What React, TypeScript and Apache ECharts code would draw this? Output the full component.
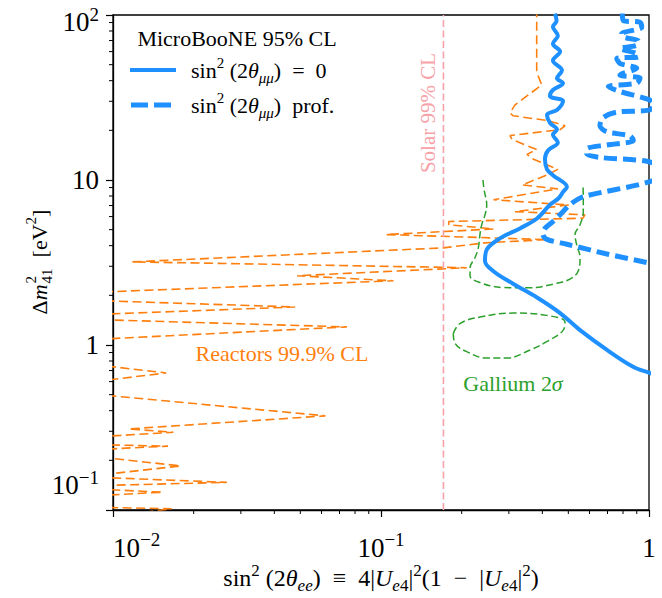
import React, { useEffect, useRef } from "react";
import * as echarts from "echarts";

const F = "'Liberation Serif', 'Times New Roman', serif";

const xRange = [0.01, 1];
const yRange = [0.1, 100];
const xMinor = [0.02, 0.03, 0.04, 0.05, 0.06, 0.07, 0.08, 0.09, 0.2, 0.3, 0.4, 0.5, 0.6, 0.7, 0.8, 0.9];
const yMinor = [0.2, 0.3, 0.4, 0.5, 0.6, 0.7, 0.8, 0.9, 2, 3, 4, 5, 6, 7, 8, 9, 20, 30, 40, 50, 60, 70, 80, 90];

const solarX = 0.171;

const reactors: [number, number][] = [
  [0.381, 110], [0.381, 46.2], [0.385, 43.1], [0.398, 37.6], [0.3535, 32.7], [0.3162, 28.5],
  [0.303, 25.5], [0.311, 24.5], [0.42, 22.9], [0.486, 21.3], [0.466, 20.2], [0.303, 18.6],
  [0.308, 17.6], [0.381, 15.3], [0.3505, 14.3], [0.369, 13.4], [0.457, 11.6], [0.415, 10.7],
  [0.336, 9.33], [0.457, 8.83], [0.263, 7.59], [0.5015, 7.06], [0.3162, 6.43], [0.576, 6.15],
  [0.567, 5.87], [0.179, 5.6], [0.179, 5.35], [0.263, 5.05], [0.1045, 4.67], [0.417, 4.35],
  [0.2435, 4.16], [0.171, 3.88], [0.0118, 3.19], [0.209, 2.94], [0.0486, 2.63], [0.1113, 2.45],
  [0.0095, 2.1], [0.0095, 1.85], [0.0478, 1.7], [0.0095, 1.54], [0.0095, 1.42], [0.0746, 1.287],
  [0.0095, 1.09], [0.0095, 0.745], [0.0158, 0.677], [0.0095, 0.613], [0.0095, 0.495], [0.062, 0.372],
  [0.01144, 0.31], [0.0168, 0.296], [0.0095, 0.28], [0.0095, 0.248], [0.01604, 0.244], [0.0095, 0.234],
  [0.0095, 0.207], [0.01786, 0.185], [0.0095, 0.165], [0.0095, 0.157], [0.0266, 0.147], [0.0095, 0.141],
  [0.0095, 0.133], [0.01531, 0.1282], [0.0095, 0.123], [0.0095, 0.1035], [0.01655, 0.1018], [0.012, 0.095],
];

const galliumUpper: [number, number][] = [
  [0.2402, 10], [0.2422, 8.83], [0.248, 7.06], [0.2444, 6.15], [0.2375, 5.35], [0.234, 4.67],
  [0.2307, 3.88], [0.2242, 3.38], [0.2149, 2.94], [0.2149, 2.63], [0.234, 2.39], [0.286, 2.23],
  [0.36, 2.22], [0.4394, 2.34], [0.507, 2.51], [0.5445, 2.81], [0.553, 3.38], [0.537, 4.06],
  [0.5295, 4.67], [0.553, 5.35], [0.5686, 6.43], [0.5686, 7.73], [0.567, 9.46],
];

const galliumLower: [number, number][] = [
  [0.1861, 1.175], [0.197, 1.349], [0.234, 1.477], [0.3117, 1.561], [0.415, 1.512], [0.486, 1.379],
  [0.4787, 1.23], [0.415, 1.047], [0.36, 0.933], [0.2942, 0.833], [0.248, 0.833], [0.2089, 0.912],
  [0.1888, 1.024], [0.1861, 1.175],
];

const uboone: [number, number][] = [
  [0.446, 102], [0.452, 92.4], [0.438, 84.8], [0.457, 74.9], [0.438, 67.0], [0.466, 60.0],
  [0.438, 53.0], [0.4735, 46.2], [0.4535, 41.4], [0.4777, 38.6], [0.438, 35.1], [0.427, 32.3],
  [0.4777, 30.1], [0.4535, 26.6], [0.4163, 24.8], [0.427, 22.2], [0.4535, 20.2], [0.438, 18.8],
  [0.457, 16.9], [0.42, 15.1], [0.409, 13.4], [0.4163, 11.6], [0.438, 10.7], [0.494, 9.08],
  [0.478, 8.47], [0.46, 7.75], [0.427, 7.08], [0.382, 5.84], [0.33, 5.09], [0.278, 4.43],
  [0.2486, 3.81], [0.2443, 3.23], [0.262, 2.81], [0.311, 2.35], [0.382, 1.94], [0.466, 1.56],
  [0.553, 1.23], [0.697, 0.933], [0.872, 0.738], [1.0, 0.679], [1.05, 0.66],
];

const ubooneProf: [number, number][] = [
  [0.795, 102], [0.802, 92.4], [0.926, 90.4], [0.939, 84.4], [0.791, 76.9], [0.802, 73.5],
  [0.912, 69.6], [0.9, 65.5], [0.779, 62.6], [0.9, 58.4], [0.912, 55.8], [0.758, 54.5],
  [0.779, 50.9], [0.9, 47.5], [0.779, 43.3], [0.926, 41.4], [0.9, 38.6], [0.705, 36.9],
  [0.779, 34.4], [1.0, 30.7], [1.04, 28.6], [1.0, 26.5], [0.758, 25.8], [0.672, 23.8],
  [0.656, 21.3], [0.695, 19.6], [0.849, 18.5], [0.874, 17.3], [0.695, 16.3], [0.585, 15.4],
  [0.585, 14.4], [0.656, 13.7], [1.0, 12.9], [1.15, 11.2], [1.0, 9.73], [0.567, 7.91],
  [0.507, 7.09], [0.466, 6.17], [0.438, 5.6], [0.409, 5.09], [0.402, 4.69], [0.416, 4.37],
  [0.494, 4.08], [0.697, 3.56], [1.0, 3.14], [1.05, 3.08],
];

const BLUE = "#1e90ff";
const ORANGE = "#ff7f0e";
const GREEN = "#2ca02c";
const PINK = "#f7a1a8";

const TS = 27; // tick label size
const TSS = 19; // tick superscript size

// rich styles for ECharts axis labels
const axisRich = {
  r: { fontSize: TS, fontFamily: F, color: "#000", lineHeight: TS + 8 },
  sp: { fontSize: TSS, fontFamily: F, color: "#000", lineHeight: TSS, verticalAlign: "top" },
  rt: { fontSize: TS, fontFamily: F, color: "#000", height: 16, lineHeight: 30, verticalAlign: "bottom" },
  spt: { fontSize: TSS, fontFamily: F, color: "#000", height: 28, lineHeight: 28, verticalAlign: "top" },
  rb: { fontSize: TS, fontFamily: F, color: "#000", height: 30, lineHeight: 80, verticalAlign: "top" },
  spb: { fontSize: TSS, fontFamily: F, color: "#000", height: 14, lineHeight: 14, verticalAlign: "top" },
};

function gRich(size: number, color: string) {
  const small = Math.round(size * 0.7);
  return {
    r: { font: `${size}px ${F}`, fill: color, lineHeight: size + 8 },
    i: { font: `italic ${size}px ${F}`, fill: color, lineHeight: size + 8 },
    sp: { font: `${small}px ${F}`, fill: color, lineHeight: small, verticalAlign: "top" },
    sb: { font: `${small}px ${F}`, fill: color, lineHeight: small, verticalAlign: "bottom" },
    sbi: { font: `italic ${small}px ${F}`, fill: color, lineHeight: small, verticalAlign: "bottom" },
  };
}

function expText(e: number) {
  return `${e < 0 ? "\u2212" : ""}${Math.abs(e)}`;
}

function xTickLabel(v: number) {
  const e = Math.round(Math.log10(v));
  if (e === 0) return "{r|1}";
  return `{r|10}{sp|${expText(e)}}`;
}

function yTickLabel(v: number) {
  const e = Math.round(Math.log10(v));
  const lo = Math.round(Math.log10(yRange[0]));
  const hi = Math.round(Math.log10(yRange[1]));
  if (e === 0) return "{r|1}";
  if (e === 1) return "{r|10}";
  if (e === hi) return `{rt|10}{spt|${expText(e)}}`;
  if (e === lo) return `{rb|10}{spb|${expText(e)}}`;
  return `{r|10}{sp|${expText(e)}}`;
}

function measure(text: string, font: string) {
  const c = document.createElement("canvas").getContext("2d");
  if (!c) return text.length * 10;
  c.font = font;
  return c.measureText(text).width;
}

// y-axis title with the superscript stacked over the subscript
function yTitle(cx: number, cy: number) {
  const big = `22px ${F}`;
  const bigI = `italic 22px ${F}`;
  const small = `15px ${F}`;
  const wD = measure("Δ", big);
  const wM = measure("m", bigI) + 1;
  const wS = Math.max(measure("41", small), measure("2", small));
  const wB = measure("  [eV", big);
  const wE = measure("2", small);
  const wC = measure("]", big);
  const total = wD + wM + wS + wB + wE + wC;
  let x = -total / 2;
  const items: any[] = [];
  const add = (text: string, font: string, y: number) => {
    items.push({
      type: "text",
      x,
      y,
      style: { text, font, fill: "#000", align: "left", verticalAlign: "middle" },
    });
  };
  add("Δ", big, 0);
  x += wD;
  add("m", bigI, 0);
  x += wM;
  add("2", small, -8);
  add("41", small, 8);
  x += wS;
  add("  [eV", big, 0);
  x += wB;
  add("2", small, -8);
  x += wE;
  add("]", big, 0);
  return { type: "group", x: cx, y: cy, rotation: Math.PI / 2, children: items };
}

export default function App() {
  const ref = useRef<HTMLDivElement>(null);
  useEffect(() => {
    if (!ref.current) return;
    const chart = echarts.init(ref.current, undefined, { renderer: "svg" });
    const minorTick = (dir: "x" | "y") => (params: any, api: any) => {
      const p = api.coord([api.value(0), api.value(1)]);
      const shape =
        dir === "x"
          ? { x1: p[0], y1: p[1], x2: p[0], y2: p[1] + 4 }
          : { x1: p[0] - 4, y1: p[1], x2: p[0], y2: p[1] };
      return { type: "line", shape, style: { stroke: "#000", lineWidth: 1 } };
    };
    const legendRich = gRich(22, "#000");
    chart.setOption({
      animation: false,
      backgroundColor: "#fff",
      grid: { left: 113, right: 13, top: 11, bottom: 88, show: true, borderColor: "#000", borderWidth: 1.3 },
      xAxis: {
        type: "log",
        logBase: 10,
        min: xRange[0],
        max: xRange[1],
        axisLine: { show: true, lineStyle: { color: "#000", width: 1.3 } },
        axisTick: { show: true, length: 7, lineStyle: { color: "#000", width: 1.2 } },
        splitLine: { show: false },
        axisLabel: {
          margin: 20,
          formatter: xTickLabel,
          rich: axisRich,
          alignMinLabel: "left",
        },
      },
      yAxis: {
        type: "log",
        logBase: 10,
        min: yRange[0],
        max: yRange[1],
        axisLine: { show: true, lineStyle: { color: "#000", width: 1.3 } },
        axisTick: { show: true, length: 7, lineStyle: { color: "#000", width: 1.2 } },
        splitLine: { show: false },
        axisLabel: {
          margin: 14,
          formatter: yTickLabel,
          rich: axisRich,
        },
      },
      series: [
        {
          type: "custom",
          renderItem: minorTick("x"),
          data: xMinor.map((v) => [v, yRange[0]]),
          silent: true,
          z: 5,
        },
        {
          type: "custom",
          renderItem: minorTick("y"),
          data: yMinor.map((v) => [xRange[0], v]),
          silent: true,
          z: 5,
        },
        {
          type: "line",
          name: "Reactors 99.9% CL",
          data: reactors,
          symbol: "none",
          lineStyle: { color: ORANGE, width: 1.6, type: [9, 4.5] },
        },
        {
          type: "line",
          name: "Gallium upper",
          data: galliumUpper,
          symbol: "none",
          smooth: 0.4,
          lineStyle: { color: GREEN, width: 1.5, type: [7, 3.5] },
        },
        {
          type: "line",
          name: "Gallium lower",
          data: galliumLower,
          symbol: "none",
          smooth: 0.4,
          lineStyle: { color: GREEN, width: 1.5, type: [7, 3.5] },
        },
        {
          type: "line",
          name: "Solar 99% CL",
          data: [[solarX, yRange[0]], [solarX, yRange[1]]],
          symbol: "none",
          lineStyle: { color: PINK, width: 1.6, type: [7, 3.5] },
        },
        {
          type: "line",
          name: "uboone",
          data: uboone,
          symbol: "none",
          smooth: 0.35,
          lineStyle: { color: BLUE, width: 4 },
        },
        {
          type: "line",
          name: "uboone prof",
          data: ubooneProf,
          symbol: "none",
          smooth: 0.3,
          lineStyle: { color: BLUE, width: 5, type: [13, 6] },
        },
      ],
      graphic: [
        {
          type: "text",
          x: 428,
          y: 113,
          rotation: Math.PI / 2,
          style: { text: "Solar 99% CL", fill: PINK, font: `21px ${F}`, align: "center", verticalAlign: "middle" },
        },
        {
          type: "text",
          x: 282,
          y: 353,
          style: { text: "Reactors 99.9% CL", fill: ORANGE, font: `22px ${F}`, align: "center", verticalAlign: "middle" },
        },
        {
          type: "text",
          x: 513,
          y: 383,
          style: {
            text: "{r|Gallium 2}{i|σ}",
            rich: gRich(22, GREEN),
            align: "center",
            verticalAlign: "middle",
          },
        },
        {
          type: "text",
          x: 237,
          y: 38,
          style: { text: "MicroBooNE 95% CL", fill: "#000", font: `22px ${F}`, align: "center", verticalAlign: "middle" },
        },
        {
          type: "line",
          shape: { x1: 130, y1: 70, x2: 176, y2: 70 },
          style: { stroke: BLUE, lineWidth: 4 },
        },
        {
          type: "text",
          x: 191,
          y: 70,
          style: {
            text: "{r|sin}{sp|2}{r| (2}{i|θ}{sbi|μμ}{r|)  =  0}",
            rich: legendRich,
            align: "left",
            verticalAlign: "middle",
          },
        },
        {
          type: "line",
          shape: { x1: 131, y1: 105, x2: 172, y2: 105 },
          style: { stroke: BLUE, lineWidth: 5, lineDash: [17, 6] },
        },
        {
          type: "text",
          x: 191,
          y: 105,
          style: {
            text: "{r|sin}{sp|2}{r| (2}{i|θ}{sbi|μμ}{r|)  prof.}",
            rich: legendRich,
            align: "left",
            verticalAlign: "middle",
          },
        },
        yTitle(39, 262),
        {
          type: "text",
          x: 381,
          y: 578,
          style: {
            text:
              "{r|sin}{sp|2}{r| (2}{i|θ}{sbi|ee}{r|)  ≡  4|}{i|U}{sbi|e}{sb|4}{r||}{sp|2}{r|(1  −  |}{i|U}{sbi|e}{sb|4}{r||}{sp|2}{r|)}",
            rich: gRich(24, "#000"),
            align: "center",
            verticalAlign: "middle",
          },
        },
      ],
    });
    return () => chart.dispose();
  }, []);
  return (
    <div
      ref={ref}
      style={{ position: "fixed", left: 0, top: 0, width: 662, height: 598, background: "#fff" }}
    />
  );
}
